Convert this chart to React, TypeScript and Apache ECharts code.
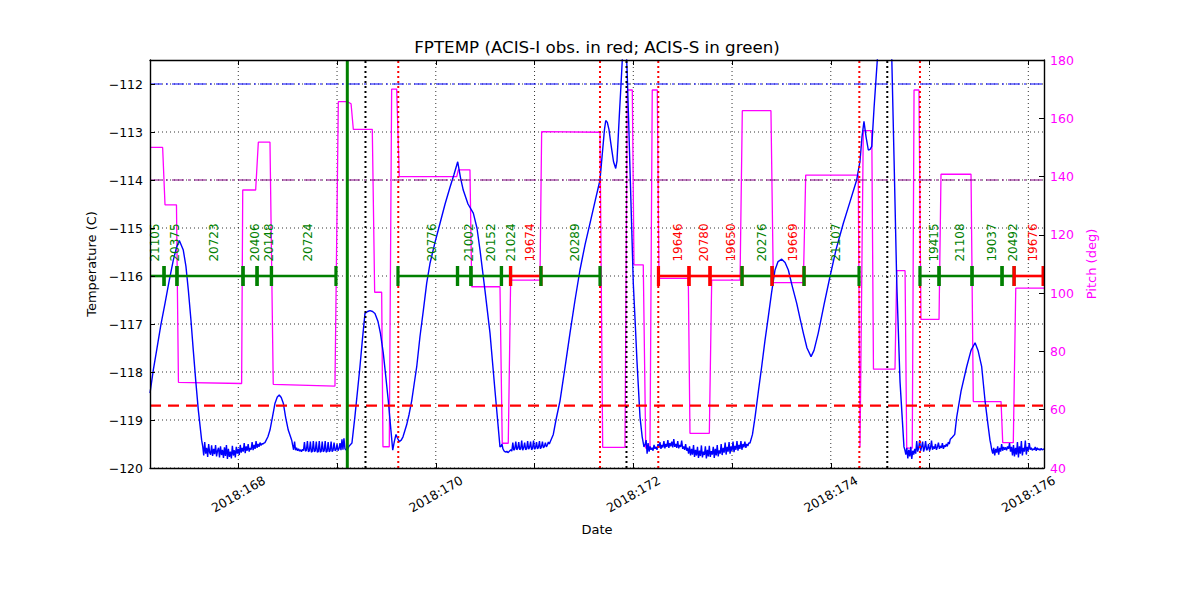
import React, { useEffect, useRef } from 'react';
import * as echarts from 'echarts';

const FONT = '"DejaVu Sans", sans-serif';

const chartTitle = 'FPTEMP (ACIS-I obs. in red; ACIS-S in green)';
const xName = 'Date';
const yName = 'Temperature (C)';
const y2Name = 'Pitch (deg)';

const xMin = 167.106;
const xMax = 176.159;
const tempMin = -120;
const tempMax = -111.5;
const pitchMin = 40;
const pitchMax = 180;
const pitchStep = 20;

const dayTicks = [168, 169, 170, 171, 172, 173, 174, 175, 176];
const dayLabels = [168, 170, 172, 174, 176];
const tempTicks = [-120, -119, -118, -117, -116, -115, -114, -113, -112];

// FPTEMP telemetry [day of 2018, deg C]
const tempA: number[][] = [
  [167.106, -118.44], [167.14, -117.95], [167.174, -117.54], [167.216, -117.02], [167.258, -116.57],
  [167.3, -116.1], [167.342, -115.67], [167.375, -115.4], [167.403, -115.26], [167.443, -115.46],
  [167.47, -115.8], [167.494, -116.29], [167.52, -116.9], [167.544, -117.54], [167.57, -118.2],
  [167.595, -118.79], [167.629, -119.42],
];
const tempNoise1: number[][] = [
  [167.64, -119.55], [167.65, -119.74], [167.66, -119.46], [167.67, -119.7], [167.68, -119.58],
  [167.69, -119.77], [167.7, -119.5], [167.71, -119.68], [167.72, -119.72], [167.73, -119.53],
  [167.74, -119.75], [167.75, -119.6], [167.76, -119.71], [167.77, -119.52], [167.78, -119.76],
  [167.79, -119.64], [167.8, -119.58], [167.81, -119.78], [167.82, -119.55], [167.83, -119.73],
  [167.84, -119.62], [167.85, -119.79], [167.86, -119.57], [167.87, -119.75], [167.88, -119.52],
  [167.89, -119.81], [167.9, -119.6], [167.91, -119.77], [167.92, -119.66], [167.93, -119.8],
  [167.94, -119.54], [167.95, -119.74], [167.96, -119.63], [167.97, -119.78], [167.98, -119.56],
  [167.99, -119.7], [168.0, -119.6], [168.01, -119.73], [168.02, -119.52], [168.03, -119.68],
  [168.04, -119.58], [168.05, -119.66], [168.06, -119.48], [168.07, -119.69], [168.08, -119.55],
  [168.09, -119.64], [168.1, -119.5], [168.11, -119.66], [168.12, -119.58], [168.13, -119.62],
  [168.14, -119.46], [168.15, -119.63], [168.16, -119.52], [168.17, -119.6], [168.18, -119.44],
  [168.19, -119.58], [168.2, -119.5], [168.21, -119.56], [168.22, -119.47], [168.23, -119.53],
  [168.24, -119.49], [168.25, -119.5], [168.26, -119.48], [168.27, -119.47],
];
const tempB: number[][] = [
  [168.3, -119.35], [168.321, -119.21], [168.345, -118.95], [168.372, -118.65], [168.395, -118.52],
  [168.415, -118.48], [168.435, -118.53], [168.456, -118.65], [168.48, -118.95], [168.506, -119.21],
  [168.541, -119.42],
];
const tempNoise2: number[][] = [
  [168.55, -119.52], [168.56, -119.62], [168.57, -119.45], [168.58, -119.63], [168.59, -119.58],
  [168.6, -119.64], [168.61, -119.6], [168.62, -119.65], [168.63, -119.62], [168.64, -119.66],
  [168.65, -119.61], [168.66, -119.64], [168.67, -119.46], [168.68, -119.65], [168.69, -119.63],
  [168.7, -119.44], [168.71, -119.66], [168.72, -119.64], [168.73, -119.45], [168.74, -119.67],
  [168.75, -119.65], [168.76, -119.44], [168.77, -119.66], [168.78, -119.64], [168.79, -119.45],
  [168.8, -119.67], [168.81, -119.66], [168.82, -119.44], [168.83, -119.67], [168.84, -119.65],
  [168.85, -119.45], [168.86, -119.66], [168.87, -119.64], [168.88, -119.44], [168.89, -119.67],
  [168.9, -119.65], [168.91, -119.46], [168.92, -119.66], [168.93, -119.64], [168.94, -119.45],
  [168.95, -119.66], [168.96, -119.63], [168.97, -119.47], [168.98, -119.64], [168.99, -119.62],
  [169.0, -119.5], [169.01, -119.64], [169.02, -119.6], [169.03, -119.48], [169.04, -119.63],
  [169.05, -119.4], [169.06, -119.62], [169.07, -119.38], [169.08, -119.6], [169.09, -119.62],
  [169.1, -119.63], [169.12, -119.55], [169.151, -119.48],
];
const tempC: number[][] = [
  [169.181, -118.93], [169.207, -118.4], [169.232, -117.89], [169.258, -117.3], [169.283, -116.78],
  [169.31, -116.74], [169.334, -116.72], [169.36, -116.74], [169.384, -116.78], [169.415, -116.95],
  [169.44, -117.2], [169.468, -117.6], [169.494, -118.1], [169.519, -118.6], [169.545, -119.2],
  [169.564, -119.63], [169.58, -119.45], [169.597, -119.3], [169.613, -119.38], [169.63, -119.45],
  [169.65, -119.42], [169.668, -119.35], [169.705, -119.1], [169.73, -118.88], [169.756, -118.6],
  [169.781, -118.25], [169.807, -117.89], [169.84, -117.26], [169.875, -116.7], [169.908, -116.15],
  [169.941, -115.74], [169.992, -115.3], [170.043, -114.9], [170.094, -114.5], [170.144, -114.15],
  [170.185, -113.88], [170.222, -113.62], [170.25, -113.95], [170.278, -114.21], [170.326, -114.5],
  [170.38, -114.69], [170.417, -115.0], [170.448, -115.46], [170.498, -116.3], [170.549, -117.19],
  [170.6, -118.4], [170.65, -119.56],
];
const tempNoise3: number[][] = [
  [170.66, -119.55], [170.67, -119.5], [170.68, -119.6], [170.69, -119.64], [170.7, -119.66],
  [170.71, -119.67], [170.72, -119.65], [170.73, -119.68], [170.74, -119.66], [170.75, -119.64],
  [170.76, -119.62], [170.77, -119.65], [170.78, -119.47], [170.79, -119.63], [170.8, -119.6],
  [170.81, -119.45], [170.82, -119.62], [170.83, -119.59], [170.84, -119.46], [170.85, -119.62],
  [170.86, -119.6], [170.87, -119.43], [170.88, -119.63], [170.89, -119.58], [170.9, -119.47],
  [170.91, -119.62], [170.92, -119.6], [170.93, -119.44], [170.94, -119.61], [170.95, -119.57],
  [170.96, -119.45], [170.97, -119.62], [170.98, -119.59], [170.99, -119.43], [171.0, -119.61],
  [171.01, -119.58], [171.02, -119.46], [171.03, -119.6], [171.04, -119.57], [171.05, -119.44],
  [171.06, -119.6], [171.07, -119.56], [171.08, -119.45], [171.09, -119.58], [171.1, -119.55],
  [171.11, -119.47], [171.12, -119.56], [171.13, -119.52], [171.14, -119.46], [171.15, -119.5],
  [171.16, -119.45],
];
const tempD: number[][] = [
  [171.19, -119.3], [171.217, -119.0], [171.258, -118.6], [171.309, -117.9], [171.359, -117.19],
  [171.41, -116.5], [171.46, -115.875], [171.511, -115.35], [171.562, -114.9], [171.612, -114.45],
  [171.663, -114.0], [171.68, -113.6], [171.693, -113.3], [171.708, -112.95], [171.721, -112.76],
  [171.737, -112.8], [171.754, -112.95], [171.77, -113.2], [171.784, -113.4], [171.8, -113.62],
  [171.822, -113.76], [171.835, -113.6], [171.845, -113.2], [171.86, -112.6], [171.876, -112.0],
  [171.891, -111.4], [171.906, -110.9], [171.922, -111.0], [171.937, -111.7], [171.952, -112.7],
  [171.967, -113.8], [171.984, -115.0], [172.0, -116.15], [172.02, -117.0], [172.038, -117.8],
  [172.068, -118.94], [172.09, -119.35], [172.108, -119.56],
];
const tempNoise4: number[][] = [
  [172.12, -119.5], [172.13, -119.42], [172.14, -119.7], [172.15, -119.48], [172.16, -119.66],
  [172.17, -119.55], [172.18, -119.62], [172.19, -119.58], [172.2, -119.64], [172.21, -119.52],
  [172.22, -119.6], [172.23, -119.56], [172.24, -119.62], [172.25, -119.5], [172.26, -119.58],
  [172.27, -119.46], [172.28, -119.6], [172.29, -119.52], [172.3, -119.57], [172.31, -119.44],
  [172.32, -119.59], [172.33, -119.5], [172.34, -119.56], [172.35, -119.42], [172.36, -119.58],
  [172.37, -119.48], [172.38, -119.55], [172.39, -119.45], [172.4, -119.57], [172.41, -119.4],
  [172.42, -119.56], [172.43, -119.5], [172.44, -119.58], [172.45, -119.44], [172.46, -119.59],
  [172.47, -119.52], [172.48, -119.56], [172.49, -119.43], [172.5, -119.6], [172.51, -119.55],
  [172.52, -119.62], [172.53, -119.5], [172.54, -119.64], [172.55, -119.58], [172.56, -119.7],
  [172.57, -119.55], [172.58, -119.74], [172.59, -119.6], [172.6, -119.72], [172.61, -119.52],
  [172.62, -119.77], [172.63, -119.62], [172.64, -119.74], [172.65, -119.56], [172.66, -119.79],
  [172.67, -119.64], [172.68, -119.75], [172.69, -119.53], [172.7, -119.78], [172.71, -119.66],
  [172.72, -119.73], [172.73, -119.55], [172.74, -119.8], [172.75, -119.62], [172.76, -119.76],
  [172.77, -119.54], [172.78, -119.77], [172.79, -119.65], [172.8, -119.72], [172.81, -119.56],
  [172.82, -119.79], [172.83, -119.6], [172.84, -119.74], [172.85, -119.52], [172.86, -119.76],
  [172.87, -119.63], [172.88, -119.7], [172.89, -119.5], [172.9, -119.73], [172.91, -119.58],
  [172.92, -119.68], [172.93, -119.47], [172.94, -119.72], [172.95, -119.56], [172.96, -119.66],
  [172.97, -119.46], [172.98, -119.7], [172.99, -119.55], [173.0, -119.64], [173.01, -119.45],
  [173.02, -119.67], [173.03, -119.54], [173.04, -119.62], [173.05, -119.44], [173.06, -119.64],
  [173.07, -119.52], [173.08, -119.6], [173.09, -119.44], [173.1, -119.62], [173.11, -119.5],
  [173.12, -119.57], [173.13, -119.45], [173.14, -119.58], [173.15, -119.5], [173.16, -119.54],
  [173.17, -119.48],
];
const tempE: number[][] = [
  [173.182, -119.48], [173.207, -119.3], [173.233, -118.94], [173.267, -118.4], [173.3, -117.89],
  [173.333, -117.35], [173.367, -116.85], [173.4, -116.35], [173.435, -115.875], [173.466, -115.7],
  [173.503, -115.65], [173.537, -115.72], [173.57, -115.875], [173.608, -116.2], [173.655, -116.57],
  [173.69, -116.9], [173.722, -117.19], [173.759, -117.5], [173.8, -117.68], [173.83, -117.55],
  [173.873, -117.19], [173.931, -116.6], [173.992, -116.01], [174.053, -115.45], [174.127, -114.9],
  [174.195, -114.45], [174.262, -114.0], [174.296, -113.6], [174.316, -113.1], [174.336, -112.78],
  [174.357, -113.1], [174.38, -113.375], [174.398, -113.36], [174.415, -113.3], [174.438, -112.5],
  [174.471, -111.5], [174.498, -110.9], [174.549, -110.6], [174.59, -110.9], [174.618, -111.5],
  [174.641, -113.6], [174.668, -116.15], [174.701, -118.2], [174.741, -119.56],
];
const tempNoise5: number[][] = [
  [174.75, -119.62], [174.76, -119.72], [174.77, -119.58], [174.78, -119.8], [174.79, -119.62],
  [174.8, -119.76], [174.81, -119.56], [174.82, -119.81], [174.83, -119.64], [174.84, -119.72],
  [174.85, -119.6], [174.86, -119.7], [174.87, -119.44], [174.88, -119.66], [174.89, -119.58],
  [174.9, -119.42], [174.91, -119.64], [174.92, -119.56], [174.93, -119.45], [174.94, -119.66],
  [174.95, -119.58], [174.96, -119.44], [174.97, -119.63], [174.98, -119.6], [174.99, -119.5],
  [175.0, -119.64], [175.01, -119.58], [175.02, -119.43], [175.03, -119.62], [175.04, -119.55],
  [175.05, -119.6], [175.06, -119.5], [175.07, -119.62], [175.08, -119.56], [175.09, -119.47],
  [175.1, -119.6], [175.11, -119.54], [175.12, -119.58], [175.13, -119.48], [175.14, -119.6],
  [175.15, -119.53], [175.16, -119.56], [175.17, -119.5], [175.18, -119.55], [175.19, -119.46],
  [175.2, -119.5], [175.21, -119.4],
];
const tempF: number[][] = [
  [175.23, -119.36], [175.255, -119.3], [175.275, -118.94], [175.319, -118.4], [175.376, -117.89],
  [175.42, -117.55], [175.461, -117.39], [175.491, -117.55], [175.528, -117.89], [175.562, -118.6],
  [175.592, -119.1], [175.612, -119.42],
];
const tempNoise6: number[][] = [
  [175.62, -119.5], [175.63, -119.62], [175.64, -119.7], [175.65, -119.58], [175.66, -119.74],
  [175.67, -119.6], [175.68, -119.68], [175.69, -119.55], [175.7, -119.72], [175.71, -119.58],
  [175.72, -119.66], [175.73, -119.5], [175.74, -119.64], [175.75, -119.56], [175.76, -119.62],
  [175.77, -119.57], [175.78, -119.63], [175.79, -119.55], [175.8, -119.6], [175.81, -119.48],
  [175.82, -119.66], [175.83, -119.56], [175.84, -119.74], [175.85, -119.52], [175.86, -119.76],
  [175.87, -119.58], [175.88, -119.72], [175.89, -119.46], [175.9, -119.78], [175.91, -119.55],
  [175.92, -119.7], [175.93, -119.44], [175.94, -119.74], [175.95, -119.58], [175.96, -119.66],
  [175.97, -119.43], [175.98, -119.72], [175.99, -119.56], [176.0, -119.64], [176.01, -119.48],
  [176.02, -119.62], [176.03, -119.58], [176.04, -119.63], [176.05, -119.6], [176.06, -119.62],
  [176.07, -119.56], [176.08, -119.64], [176.09, -119.58], [176.1, -119.62], [176.11, -119.6],
  [176.12, -119.63], [176.13, -119.59], [176.14, -119.62], [176.16, -119.6],
];

// Pitch [day of 2018, deg]
const pitch: number[][] = [
  [167.106, 150], [167.234, 150], [167.258, 130.3], [167.374, 130.3], [167.394, 69.4],
  [168.034, 69.0], [168.045, 135.4], [168.176, 135.4], [168.203, 151.8], [168.321, 151.8],
  [168.354, 68.7], [168.979, 68.1], [169.013, 165.7], [169.104, 165.7], [169.142, 165.0],
  [169.165, 156.2], [169.357, 156.2], [169.381, 100.3], [169.452, 100.3], [169.465, 47.3],
  [169.529, 47.3], [169.553, 170], [169.604, 170], [169.63, 140], [170.212, 140],
  [170.228, 142.3], [170.346, 142.3], [170.364, 102.2], [170.65, 102.2], [170.673, 48.5],
  [170.734, 48.5], [170.758, 104.5], [171.055, 104.5], [171.072, 155.4], [171.663, 155.2],
  [171.69, 47.1], [171.916, 47.1], [171.939, 169.7], [171.99, 169.7], [172.007, 109.7],
  [172.101, 109.7], [172.126, 46.8], [172.169, 46.8], [172.192, 169.7], [172.243, 169.7],
  [172.26, 105.1], [172.557, 105.1], [172.574, 51.9], [172.77, 51.9], [172.794, 104.5],
  [173.081, 104.5], [173.104, 162.6], [173.394, 162.6], [173.418, 103.6], [173.722, 103.6],
  [173.746, 140.5], [174.278, 140.5], [174.296, 47.3], [174.329, 155.8], [174.415, 155.8],
  [174.432, 73.9], [174.65, 73.9], [174.668, 107.7], [174.752, 107.7], [174.769, 46.8],
  [174.825, 46.8], [174.843, 169.7], [174.893, 169.7], [174.913, 91], [175.096, 91],
  [175.116, 140.8], [175.42, 140.8], [175.443, 62.8], [175.724, 62.8], [175.741, 48.7],
  [175.848, 48.7], [175.873, 101.7], [176.159, 101.7],
];

// Observations
const obsIds = [
  '21105', '20375', '20723', '20406', '20148', '20724', '20776', '21002', '20152', '21024',
  '19674', '20289', '19646', '20780', '19650', '20276', '19669', '21107', '19415', '21108',
  '19037', '20492', '19676',
];
const obsStart = [
  166.975, 167.248, 167.379, 168.048, 168.19, 168.336, 169.617, 170.22, 170.356, 170.665,
  170.757, 171.065, 172.255, 172.564, 172.777, 173.101, 173.405, 173.729, 174.903, 175.096,
  175.43, 175.734, 175.856,
];
const obsEnd = [
  167.248, 167.379, 168.048, 168.19, 168.336, 168.989, 170.22, 170.356, 170.665, 170.757,
  171.065, 171.663, 172.564, 172.777, 173.101, 173.405, 173.729, 174.286, 175.096, 175.43,
  175.734, 175.856, 176.15,
];
const obsInstr = [
  'S', 'S', 'S', 'S', 'S', 'S', 'S', 'S', 'S', 'S',
  'I', 'S', 'I', 'I', 'I', 'S', 'I', 'S', 'S', 'S',
  'S', 'S', 'I',
];
const obsLevel = -116;
const obsLabelLevel = -115.7;

// Event lines
const vLineDays = [169.104, 169.288, 169.62, 171.663, 171.931, 172.253, 174.289, 174.572, 174.903];
const vLineKinds = ['green', 'black', 'red', 'red', 'black', 'red', 'red', 'black', 'red'];
const hLineTemps = [-112, -114, -118.7];
const hLineKinds = ['blue', 'purple', 'red'];

const axisLineStyle = { color: '#000', width: 1.4 };
const tickFont = { fontFamily: FONT, fontSize: 12.5, color: '#000' };

function vStyle(kind: string) {
  if (kind === 'green') return { stroke: '#008000', lineWidth: 3 };
  if (kind === 'red') return { stroke: '#ff0000', lineWidth: 2, lineDash: [2, 3] };
  return { stroke: '#000000', lineWidth: 2, lineDash: [2, 3] };
}
function hStyle(kind: string) {
  if (kind === 'blue') return { stroke: '#0000ff', lineWidth: 1.2, lineDash: [12, 4, 2, 4] };
  if (kind === 'purple') return { stroke: '#800080', lineWidth: 1.2, lineDash: [12, 4, 2, 4] };
  return { stroke: '#ff0000', lineWidth: 2.4, lineDash: [11, 7] };
}

function buildOption() {
  const temp = ([] as number[][]).concat(
    tempA, tempNoise1, tempB, tempNoise2, tempC, tempNoise3, tempD,
    tempNoise4, tempE, tempNoise5, tempF, tempNoise6
  );
  const fmtTemp = (v: number) => (v < 0 ? '\u2212' + Math.abs(v) : String(v));
  return {
    animation: false,
    backgroundColor: '#ffffff',
    grid: { left: 150, top: 60, width: 894, height: 408 },
    graphic: [
      {
        type: 'text',
        x: 597,
        y: 47,
        style: {
          text: chartTitle,
          fill: '#000',
          font: '16.7px "DejaVu Sans"',
          align: 'center',
          verticalAlign: 'middle',
          textAlign: 'center',
          textVerticalAlign: 'middle',
        },
      },
    ],
    xAxis: [
      {
        type: 'value',
        min: xMin,
        max: xMax,
        position: 'bottom',
        z: 10,
        name: xName,
        nameLocation: 'middle',
        nameGap: 55,
        nameTextStyle: { fontFamily: FONT, fontSize: 13, color: '#000' },
        axisLine: { show: true, onZero: false, lineStyle: axisLineStyle },
        axisTick: { show: true, inside: true, length: 5, customValues: dayTicks, lineStyle: { color: '#000', width: 1 } },
        axisLabel: {
          customValues: dayLabels,
          formatter: (v: number) => '2018:' + Math.round(v),
          rotate: 30,
          align: 'center',
          verticalAlign: 'middle',
          margin: 26,
          ...tickFont,
        },
        splitLine: { show: false },
      },
      {
        type: 'value',
        min: xMin,
        max: xMax,
        position: 'top',
        z: 10,
        axisLine: { show: true, onZero: false, lineStyle: axisLineStyle },
        axisTick: { show: true, inside: true, length: 5, customValues: dayTicks, lineStyle: { color: '#000', width: 1 } },
        axisLabel: { show: false },
        splitLine: { show: false },
      },
    ],
    yAxis: [
      {
        type: 'value',
        min: tempMin,
        max: tempMax,
        position: 'left',
        z: 10,
        name: yName,
        nameLocation: 'middle',
        nameGap: 48,
        nameRotate: 90,
        nameTextStyle: { fontFamily: FONT, fontSize: 13, color: '#000' },
        axisLine: { show: true, onZero: false, lineStyle: axisLineStyle },
        axisTick: { show: true, inside: true, length: 5, customValues: tempTicks, lineStyle: { color: '#000', width: 1 } },
        axisLabel: { customValues: tempTicks, formatter: fmtTemp, margin: 7, ...tickFont },
        splitLine: { show: false },
      },
      {
        type: 'value',
        min: pitchMin,
        max: pitchMax,
        interval: pitchStep,
        position: 'right',
        z: 10,
        name: y2Name,
        nameLocation: 'middle',
        nameGap: 36,
        nameRotate: 90,
        nameTextStyle: { fontFamily: FONT, fontSize: 13, color: '#ff00ff' },
        axisLine: { show: true, onZero: false, lineStyle: axisLineStyle },
        axisTick: { show: true, inside: true, length: 5, lineStyle: { color: '#000', width: 1 } },
        axisLabel: { margin: 6, ...tickFont, color: '#ff00ff' },
        splitLine: { show: false },
      },
    ],
    series: [
      {
        type: 'custom',
        name: 'gridV',
        silent: true,
        z: 1,
        xAxisIndex: 0,
        yAxisIndex: 0,
        data: dayTicks.map((d) => [d, tempMin]),
        renderItem: (params: any, api: any) => {
          const a = api.coord([api.value(0), tempMin]);
          const b = api.coord([api.value(0), tempMax]);
          return { type: 'line', shape: { x1: a[0], y1: a[1], x2: b[0], y2: b[1] }, style: { stroke: '#000', lineWidth: 0.8, lineDash: [1, 3] } };
        },
      },
      {
        type: 'custom',
        name: 'gridH',
        silent: true,
        z: 1,
        xAxisIndex: 0,
        yAxisIndex: 0,
        data: tempTicks.map((t) => [xMin, t]),
        renderItem: (params: any, api: any) => {
          const a = api.coord([xMin, api.value(1)]);
          const b = api.coord([xMax, api.value(1)]);
          return { type: 'line', shape: { x1: a[0], y1: a[1], x2: b[0], y2: b[1] }, style: { stroke: '#000', lineWidth: 0.8, lineDash: [1, 3] } };
        },
      },
      {
        type: 'line',
        name: 'Pitch',
        xAxisIndex: 0,
        yAxisIndex: 1,
        z: 3,
        data: pitch,
        showSymbol: false,
        symbol: 'none',
        clip: true,
        lineStyle: { color: '#ff00ff', width: 1.3 },
      },
      {
        type: 'line',
        name: 'FPTEMP',
        xAxisIndex: 0,
        yAxisIndex: 0,
        z: 4,
        data: temp,
        showSymbol: false,
        symbol: 'none',
        clip: true,
        lineStyle: { color: '#0000ff', width: 1.4 },
      },
      {
        type: 'custom',
        name: 'hlines',
        silent: true,
        z: 5,
        xAxisIndex: 0,
        yAxisIndex: 0,
        data: hLineTemps.map((t) => [xMin, t]),
        renderItem: (params: any, api: any) => {
          const a = api.coord([xMin, api.value(1)]);
          const b = api.coord([xMax, api.value(1)]);
          return { type: 'line', shape: { x1: a[0], y1: a[1], x2: b[0], y2: b[1] }, style: hStyle(hLineKinds[params.dataIndex]) };
        },
      },
      {
        type: 'custom',
        name: 'vlines',
        silent: true,
        z: 6,
        xAxisIndex: 0,
        yAxisIndex: 0,
        data: vLineDays.map((d) => [d, tempMin]),
        renderItem: (params: any, api: any) => {
          const a = api.coord([api.value(0), tempMin]);
          const b = api.coord([api.value(0), tempMax]);
          return { type: 'line', shape: { x1: a[0], y1: a[1], x2: b[0], y2: b[1] }, style: vStyle(vLineKinds[params.dataIndex]) };
        },
      },
      {
        type: 'custom',
        name: 'obs',
        silent: true,
        z: 7,
        xAxisIndex: 0,
        yAxisIndex: 0,
        data: obsStart.map((s, i) => [s, obsEnd[i]]),
        renderItem: (params: any, api: any) => {
          const i = params.dataIndex;
          const s0 = api.value(0);
          const e0 = api.value(1);
          const s = api.coord([s0, obsLevel]);
          const e = api.coord([e0, obsLevel]);
          const lab = api.coord([(s0 + e0) / 2, obsLabelLevel]);
          const cs = params.coordSys;
          const color = obsInstr[i] === 'I' ? '#ff0000' : '#008000';
          const x1 = Math.max(s[0], cs.x);
          const x2 = Math.min(e[0], cs.x + cs.width);
          const children: any[] = [
            { type: 'line', shape: { x1, y1: s[1], x2, y2: s[1] }, style: { stroke: color, lineWidth: 2.6 } },
          ];
          [s[0], e[0]].forEach((x) => {
            if (x >= cs.x - 0.5 && x <= cs.x + cs.width + 0.5) {
              children.push({ type: 'rect', shape: { x: x - 1.6, y: s[1] - 10, width: 3.2, height: 20 }, style: { fill: color } });
            }
          });
          children.push({
            type: 'text',
            x: lab[0] + 4.5,
            y: lab[1],
            rotation: Math.PI / 2,
            style: {
              text: obsIds[i],
              fill: color,
              font: '12px "DejaVu Sans"',
              align: 'left',
              verticalAlign: 'middle',
              textAlign: 'left',
              textVerticalAlign: 'middle',
            },
          });
          return { type: 'group', children };
        },
      },
    ],
  };
}

export default function App() {
  const ref = useRef<HTMLDivElement>(null);
  useEffect(() => {
    if (!ref.current) return;
    const chart = echarts.init(ref.current, null, { renderer: 'svg' });
    chart.setOption(buildOption() as any);
    return () => chart.dispose();
  }, []);
  return (
    <div
      ref={ref}
      style={{ position: 'absolute', left: 0, top: 0, width: 1200, height: 600, background: '#ffffff' }}
    />
  );
}
